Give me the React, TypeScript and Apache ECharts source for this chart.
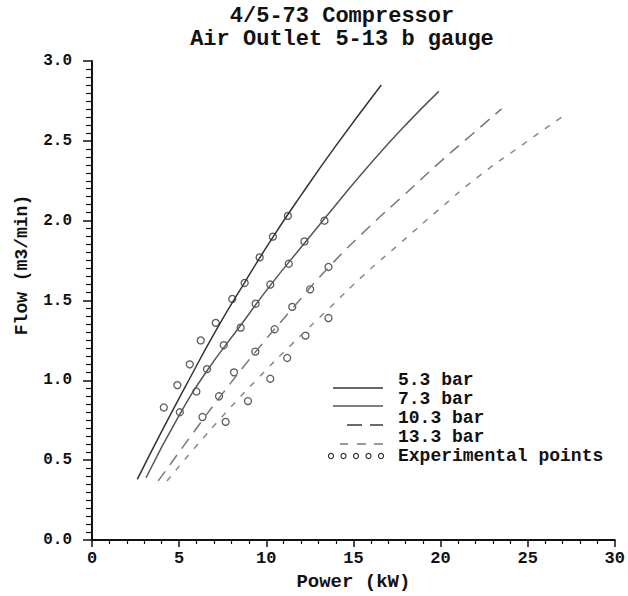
import React, { useEffect, useRef } from "react";
import * as echarts from "echarts";

// Model curves (Power kW, Flow m3/min)
const curve53 = [[2.6, 0.38], [4.0, 0.68], [5.6, 1.01], [7.1, 1.31], [8.8, 1.62], [10.4, 1.9], [12.0, 2.16], [14.0, 2.47], [16.6, 2.85]];
const curve73 = [[3.1, 0.39], [5.0, 0.78], [6.6, 1.06], [8.5, 1.34], [10.2, 1.59], [12.2, 1.86], [14.0, 2.1], [16.0, 2.36], [18.0, 2.6], [19.9, 2.81]];
const curve103 = [[3.8, 0.37], [5.6, 0.64], [7.3, 0.89], [9.4, 1.18], [11.5, 1.45], [13.6, 1.71], [15.9, 1.96], [17.9, 2.16], [20.0, 2.37], [21.8, 2.54], [23.5, 2.7]];
const curve133 = [[4.3, 0.37], [6.0, 0.59], [7.7, 0.8], [9.5, 1.01], [11.5, 1.23], [13.6, 1.45], [15.6, 1.66], [17.7, 1.86], [19.8, 2.06], [22.1, 2.27], [24.5, 2.46], [27.1, 2.66]];

// Experimental points
const points53 = [[11.24, 2.03], [10.38, 1.9], [9.62, 1.77], [8.76, 1.61], [8.05, 1.51], [7.1, 1.36], [6.24, 1.25], [5.61, 1.1], [4.9, 0.97], [4.12, 0.83]];
const points73 = [[13.34, 2.0], [12.19, 1.87], [11.29, 1.73], [10.23, 1.6], [9.39, 1.48], [8.53, 1.33], [7.56, 1.22], [6.6, 1.07], [5.99, 0.93], [5.04, 0.8]];
const points103 = [[13.57, 1.71], [12.52, 1.57], [11.49, 1.46], [10.48, 1.32], [9.37, 1.18], [8.15, 1.05], [7.29, 0.9], [6.34, 0.77]];
const points133 = [[13.57, 1.39], [12.25, 1.28], [11.2, 1.14], [10.23, 1.01], [8.95, 0.87], [7.67, 0.74]];

const legendLabels = ["5.3 bar", "7.3 bar", "10.3 bar", "13.3 bar", "Experimental points"];
const titleLines = ["4/5-73 Compressor", "Air Outlet 5-13 b gauge"];

const FONT = "'Liberation Mono', 'DejaVu Sans Mono', monospace";

export default function App() {
  const ref = useRef<HTMLDivElement>(null);
  useEffect(() => {
    if (!ref.current) return;
    const chart = echarts.init(ref.current, null, { renderer: "svg" });
    const lx0 = 333, lx1 = 383, tx = 398;
    const textRowY = [380, 399, 418, 437, 456];
    const legendGraphics: any[] = [
      { type: "line", shape: { x1: lx0, y1: 388, x2: lx1, y2: 388 }, style: { stroke: "#333", lineWidth: 1.5 } },
      { type: "line", shape: { x1: lx0, y1: 406, x2: lx1, y2: 406 }, style: { stroke: "#555", lineWidth: 1.5 } },
      { type: "line", shape: { x1: 347, y1: 425, x2: 362, y2: 425 }, style: { stroke: "#444", lineWidth: 1.6 } },
      { type: "line", shape: { x1: 370, y1: 425, x2: 383, y2: 425 }, style: { stroke: "#444", lineWidth: 1.6 } },
      { type: "line", shape: { x1: 340, y1: 444, x2: 348, y2: 444 }, style: { stroke: "#777", lineWidth: 1.5 } },
      { type: "line", shape: { x1: 357, y1: 444, x2: 366, y2: 444 }, style: { stroke: "#777", lineWidth: 1.5 } },
      { type: "line", shape: { x1: 374, y1: 444, x2: 383, y2: 444 }, style: { stroke: "#777", lineWidth: 1.5 } },
    ];
    for (let i = 0; i < 5; i++) {
      legendGraphics.push({ type: "circle", shape: { cx: 331 + i * 12.5, cy: 456, r: 2.5 }, style: { fill: "none", stroke: "#333", lineWidth: 1.2 } });
    }
    legendLabels.forEach((t, i) => {
      legendGraphics.push({
        type: "text", x: tx, y: textRowY[i],
        style: { text: t, font: `bold 18px ${FONT}`, fill: "#111", textAlign: "left", textVerticalAlign: "middle" },
      });
    });

    const allPoints = [...points53, ...points73, ...points103, ...points133];

    chart.setOption({
      animation: false,
      backgroundColor: "#fff",
      grid: { left: 92, right: 12, top: 61, bottom: 54 },
      xAxis: {
        type: "value", min: 0, max: 30, interval: 5,
        name: "Power (kW)", nameLocation: "middle", nameGap: 32,
        nameTextStyle: { fontFamily: FONT, fontWeight: "bold", fontSize: 19, color: "#111" },
        axisLine: { show: true, onZero: false, lineStyle: { color: "#111", width: 2 } },
        axisTick: { show: true, length: 7, lineStyle: { color: "#111", width: 1.5 } },
        minorTick: { show: true, splitNumber: 5, length: 4, lineStyle: { color: "#111", width: 1.2 } },
        splitLine: { show: false },
        axisLabel: { margin: 10, fontFamily: FONT, fontWeight: "bold", fontSize: 17, color: "#111" },
      },
      yAxis: {
        type: "value", min: 0, max: 3, interval: 0.5,
        axisLine: { show: true, lineStyle: { color: "#111", width: 2 } },
        axisTick: { show: true, length: 9, lineStyle: { color: "#111", width: 1.5 } },
        minorTick: { show: true, splitNumber: 10, length: 6, lineStyle: { color: "#111", width: 1.2 } },
        splitLine: { show: false },
        axisLabel: { margin: 20, fontFamily: FONT, fontWeight: "bold", fontSize: 16, color: "#111", formatter: (v: number) => v.toFixed(1) },
      },
      graphic: [
        { type: "text", x: 342, y: 16, style: { text: titleLines[0], font: `bold 22px ${FONT}`, fill: "#111", textAlign: "center", textVerticalAlign: "middle" } },
        { type: "text", x: 342, y: 39, style: { text: titleLines[1], font: `bold 22px ${FONT}`, fill: "#111", textAlign: "center", textVerticalAlign: "middle" } },
        { type: "text", x: 22, y: 265, rotation: Math.PI / 2, style: { text: "Flow (m3/min)", font: `bold 18px ${FONT}`, fill: "#111", textAlign: "center", textVerticalAlign: "middle" } },
        ...legendGraphics,
      ],
      series: [
        { name: "5.3 bar", type: "line", data: curve53, smooth: true, symbol: "none", lineStyle: { color: "#333", width: 1.5 } },
        { name: "7.3 bar", type: "line", data: curve73, smooth: true, symbol: "none", lineStyle: { color: "#555", width: 1.5 } },
        { name: "10.3 bar", type: "line", data: curve103, smooth: true, symbol: "none", lineStyle: { color: "#777", width: 1.5, type: [12, 8] } },
        { name: "13.3 bar", type: "line", data: curve133, smooth: true, symbol: "none", lineStyle: { color: "#888", width: 1.5, type: [6, 8] } },
        { name: "Experimental points", type: "scatter", data: allPoints, symbol: "circle", symbolSize: 7, itemStyle: { color: "#fff", borderColor: "#333", borderWidth: 1.3 } },
      ],
    });
    return () => chart.dispose();
  }, []);
  return <div ref={ref} style={{ width: 628, height: 596, position: "absolute", left: 0, top: 0 }} />;
}
